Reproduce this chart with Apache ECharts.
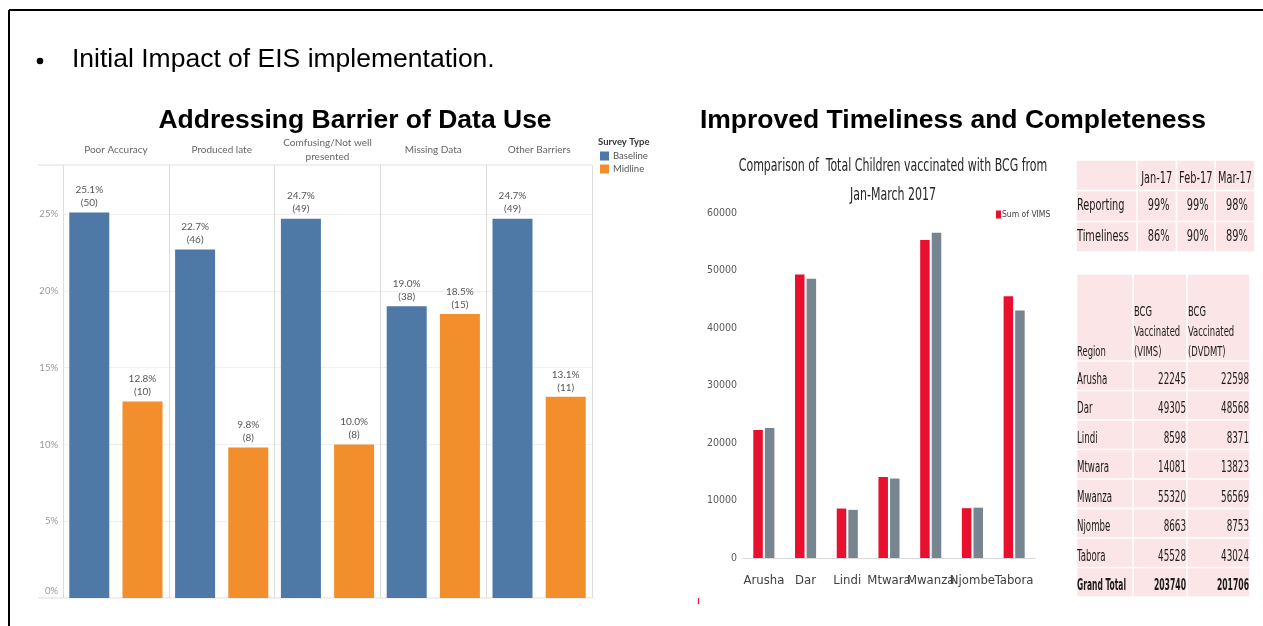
<!DOCTYPE html>
<html>
<head>
<meta charset="utf-8">
<title>Initial Impact of EIS implementation</title>
<script src="https://cdn.jsdelivr.net/npm/echarts@6/dist/echarts.min.js"></script>
<style>
  html, body { margin: 0; padding: 0; background: #fff; }
  #main { width: 1263px; height: 626px; }
</style>
</head>
<body>
<div id="main"></div>
<script>
// Barreras de uso de datos (Tableau)
var barriers = ['Poor Accuracy', 'Produced late', 'Comfusing/Not well\npresented', 'Missing Data', 'Other Barriers'];
var baselinePct = [25.1, 22.7, 24.7, 19.0, 24.7];
var baselineCount = [50, 46, 49, 38, 49];
var midlinePct = [12.8, 9.8, 10.0, 18.5, 13.1];
var midlineCount = [10, 8, 8, 15, 11];

// BCG por region
var regions = ['Arusha', 'Dar', 'Lindi', 'Mtwara', 'Mwanza', 'Njombe', 'Tabora'];
var bcgVims = [22245, 49305, 8598, 14081, 55320, 8663, 45528];
var bcgDvdmt = [22598, 48568, 8371, 13823, 56569, 8753, 43024];

// Tabla de reporte
var months = ['Jan-17', 'Feb-17', 'Mar-17'];
var reporting = ['99%', '99%', '98%'];
var timeliness = ['86%', '90%', '89%'];

var narrow = '"DejaVu Sans Condensed", "Liberation Sans Narrow", sans-serif';
var tabFont = 'Lato, "Open Sans", sans-serif';
var arial = '"Liberation Sans", Arial, sans-serif';
var pink = '#fce5e7';

var myChart = echarts.init(document.getElementById('main'));

var graphics = [];

function line(x1, y1, x2, y2, color, w) {
  graphics.push({ type: 'line', silent: true, shape: { x1: x1, y1: y1, x2: x2, y2: y2 },
    style: { stroke: color, lineWidth: w } });
}
function text(str, x, y, font, color, align, vAlign, sx) {
  graphics.push({ type: 'text', x: x, y: y, scaleX: sx || 1, silent: true,
    style: { text: str, font: font, fill: color, textAlign: align, align: align,
      textVerticalAlign: vAlign, verticalAlign: vAlign } });
}
function cell(x1, y1, x2, y2) {
  graphics.push({ type: 'rect', silent: true, z: -1,
    shape: { x: x1 + 0.8, y: y1 + 0.8, width: x2 - x1 - 1.6, height: y2 - y1 - 1.6 },
    style: { fill: pink } });
}

// Marco de pagina
line(9, 10, 1263, 10, '#000', 2);
line(9, 10, 9, 626, '#000', 2);

// Textos de pagina
graphics.push({ type: 'circle', silent: true, shape: { cx: 40, cy: 61, r: 3.3 }, style: { fill: '#000' } });
text('Initial Impact of EIS implementation.', 72, 60, '26.5px ' + arial, '#000', 'left', 'middle');
text('Addressing Barrier of Data Use', 355, 121, 'bold 26.5px ' + arial, '#000', 'center', 'middle');
text('Improved Timeliness and Completeness', 953, 121, 'bold 26.5px ' + arial, '#000', 'center', 'middle');

// Lineas del panel Tableau
line(38, 165, 592, 165, '#dcdcdc', 1);
line(38, 598, 592, 598, '#dcdcdc', 1);
text('Survey Type', 598, 142, 'bold 9.5px ' + tabFont, '#333', 'left', 'middle');

// Titulo del grafico BCG
text('Comparison of  Total Children vaccinated with BCG from', 893, 166, '18px ' + narrow, '#262626', 'center', 'middle', 0.68);
text('Jan-March 2017', 893, 195, '18px ' + narrow, '#262626', 'center', 'middle', 0.68);
line(698.5, 598, 698.5, 604, '#e8102e', 1.2);

// Tabla 1: reporte y puntualidad
var t1Cols = [1076, 1137, 1176.5, 1215, 1255];
var t1Rows = [160, 190.5, 221.5, 252];
for (var r = 0; r < 3; r++) {
  for (var c = 0; c < 4; c++) cell(t1Cols[c], t1Rows[r], t1Cols[c + 1], t1Rows[r + 1]);
}
var f1 = '16px ' + narrow;
months.forEach(function (m, i) {
  text(m, (t1Cols[i + 1] + t1Cols[i + 2]) / 2, 179, f1, '#1a1a1a', 'center', 'middle', 0.68);
});
[['Reporting', reporting], ['Timeliness', timeliness]].forEach(function (row, r) {
  var cy = (t1Rows[r + 1] + t1Rows[r + 2]) / 2;
  text(row[0], 1077, cy, f1, '#1a1a1a', 'left', 'middle', 0.68);
  row[1].forEach(function (v, i) {
    text(v, (t1Cols[i + 1] + t1Cols[i + 2]) / 2 + 2, cy, f1, '#1a1a1a', 'center', 'middle', 0.68);
  });
});

// Tabla 2: BCG por region
var t2Cols = [1076.5, 1133, 1187, 1250];
var t2Rows = [274];
for (var k = 0; k <= 8; k++) t2Rows.push(361 + k * 29.5);
for (var r2 = 0; r2 < t2Rows.length - 1; r2++) {
  for (var c2 = 0; c2 < 3; c2++) cell(t2Cols[c2], t2Rows[r2], t2Cols[c2 + 1], t2Rows[r2 + 1]);
}
var fh = '14px ' + narrow;
text('Region', 1077, 352, fh, '#1a1a1a', 'left', 'middle', 0.67);
[['BCG', 'Vaccinated', '(VIMS)'], ['BCG', 'Vaccinated', '(DVDMT)']].forEach(function (lines, i) {
  lines.forEach(function (s, j) {
    text(s, t2Cols[i + 1] + 1, 312 + j * 20, fh, '#1a1a1a', 'left', 'middle', 0.67);
  });
});
var fd = '15px ' + narrow;
var totV = 0, totD = 0;
regions.forEach(function (reg, i) {
  var cy = (t2Rows[i + 1] + t2Rows[i + 2]) / 2 + 4;
  text(reg, 1077, cy, fd, '#1a1a1a', 'left', 'middle', 0.64);
  text(String(bcgVims[i]), t2Cols[2] - 1, cy, fd, '#1a1a1a', 'right', 'middle', 0.65);
  text(String(bcgDvdmt[i]), t2Cols[3] - 1, cy, fd, '#1a1a1a', 'right', 'middle', 0.65);
  totV += bcgVims[i];
  totD += bcgDvdmt[i];
});
var gy = (t2Rows[8] + t2Rows[9]) / 2 + 4;
text('Grand Total', 1077, gy, 'bold ' + fd, '#1a1a1a', 'left', 'middle', 0.56);
text(String(totV), t2Cols[2] - 1, gy, 'bold ' + fd, '#1a1a1a', 'right', 'middle', 0.57);
text(String(totD), t2Cols[3] - 1, gy, 'bold ' + fd, '#1a1a1a', 'right', 'middle', 0.57);

var option = {
  animation: false,
  textStyle: { fontFamily: tabFont },
  graphic: graphics,
  legend: [
    {
      data: ['Baseline', 'Midline'],
      orient: 'vertical',
      left: 600,
      top: 151,
      itemWidth: 9,
      itemHeight: 9,
      itemGap: 3,
      icon: 'rect',
      padding: 0,
      textStyle: { fontSize: 9.5, color: '#555', padding: [0, 0, 0, -1] }
    },
    {
      data: ['Sum of VIMS'],
      left: 996,
      top: 210,
      itemWidth: 5,
      itemHeight: 8,
      icon: 'rect',
      padding: 0,
      textStyle: { fontFamily: narrow, fontSize: 8.5, color: '#404040', padding: [0, 0, 0, -4] }
    }
  ],
  grid: [
    { left: 63, top: 165, width: 529, height: 433 },
    { left: 743, top: 213, width: 292, height: 345 }
  ],
  xAxis: [
    {
      type: 'category',
      gridIndex: 0,
      position: 'top',
      data: barriers,
      axisLine: { show: false },
      axisTick: { show: true, length: 30, interval: 0, lineStyle: { color: '#dcdcdc' } },
      axisLabel: { interval: 0, margin: 15, verticalAlign: 'middle', fontSize: 10, lineHeight: 14, color: '#666' },
      splitLine: { show: true, interval: 0, showMinLine: true, showMaxLine: true, lineStyle: { color: '#dcdcdc' } }
    },
    {
      type: 'category',
      gridIndex: 1,
      data: regions,
      axisLine: { lineStyle: { color: '#d9d9d9' } },
      axisTick: { show: false },
      axisLabel: { interval: 0, margin: 16, fontFamily: narrow, fontSize: 13, color: '#404040' }
    }
  ],
  yAxis: [
    {
      type: 'value',
      gridIndex: 0,
      min: 0,
      max: 28.2,
      interval: 5,
      axisLine: { show: false },
      axisTick: { show: false },
      axisLabel: {
        margin: 5,
        fontSize: 9.5,
        color: '#999',
        formatter: function (v) {
          if (v % 5 !== 0) return '';
          return v === 0 ? '{z|0%}' : v + '%';
        },
        rich: { z: { fontSize: 9.5, color: '#999', padding: [0, 0, 14, 0] } }
      },
      splitLine: { lineStyle: { color: '#f0f0f0' } }
    },
    {
      type: 'value',
      gridIndex: 1,
      min: 0,
      max: 60000,
      interval: 10000,
      axisLine: { show: false },
      axisTick: { show: false },
      splitLine: { show: false },
      axisLabel: {
        margin: 6,
        fontFamily: narrow,
        fontSize: 10.5,
        color: '#595959',
        formatter: function (v) { return String(v); }
      }
    }
  ],
  series: [
    {
      name: 'Baseline',
      type: 'bar',
      xAxisIndex: 0,
      yAxisIndex: 0,
      data: baselinePct,
      barWidth: 40,
      barGap: '33%',
      itemStyle: { color: '#4e79a7' },
      label: {
        show: true,
        position: 'top',
        distance: 3,
        fontSize: 10,
        lineHeight: 13,
        color: '#555',
        formatter: function (p) { return p.value.toFixed(1) + '%\n(' + baselineCount[p.dataIndex] + ')'; }
      }
    },
    {
      name: 'Midline',
      type: 'bar',
      xAxisIndex: 0,
      yAxisIndex: 0,
      data: midlinePct,
      barWidth: 40,
      barGap: '33%',
      itemStyle: { color: '#f28e2b' },
      label: {
        show: true,
        position: 'top',
        distance: 3,
        fontSize: 10,
        lineHeight: 13,
        color: '#555',
        formatter: function (p) { return p.value.toFixed(1) + '%\n(' + midlineCount[p.dataIndex] + ')'; }
      }
    },
    {
      name: 'Sum of VIMS',
      type: 'bar',
      xAxisIndex: 1,
      yAxisIndex: 1,
      data: bcgVims,
      barWidth: 9.5,
      barGap: '22%',
      itemStyle: { color: '#e8102e' }
    },
    {
      name: 'Sum of DVDMT',
      type: 'bar',
      xAxisIndex: 1,
      yAxisIndex: 1,
      data: bcgDvdmt,
      barWidth: 9.5,
      barGap: '22%',
      itemStyle: { color: '#778591' }
    }
  ]
};

myChart.setOption(option);
</script>
</body>
</html>
